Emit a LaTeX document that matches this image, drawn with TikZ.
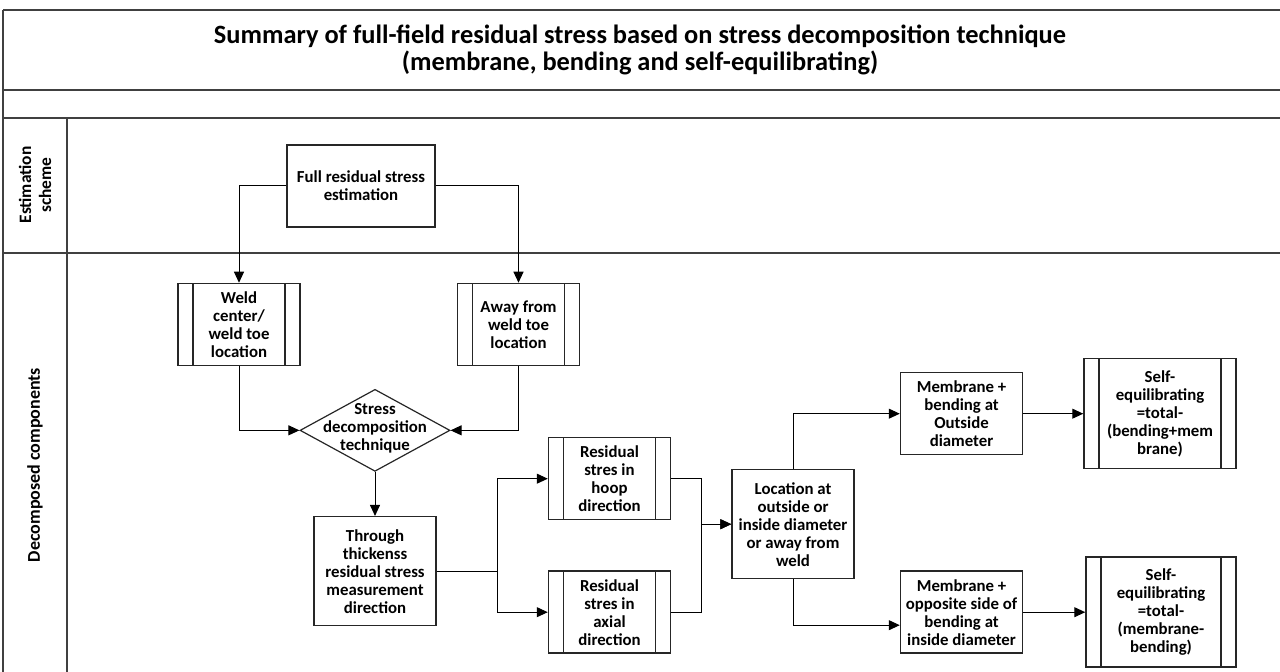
\documentclass[tikz,border=0pt]{standalone}
\usepackage{fontspec}
\setmainfont{Carlito}
\usetikzlibrary{arrows.meta,positioning,shapes.geometric}

\begin{document}
\begin{tikzpicture}[
  x=0.5pt, y=-0.5pt,
  box/.style={rectangle, draw=black!85, line width=0.75pt, align=center,
              font=\bfseries\fontsize{8.4pt}{9pt}\selectfont, inner sep=1pt,
              minimum width=61pt, minimum height=41pt},
  proc/.style={box, path picture={
      \draw[black!85, line width=0.75pt]
        ([xshift=7.5pt]path picture bounding box.north west) --
        ([xshift=7.5pt]path picture bounding box.south west)
        ([xshift=-7.5pt]path picture bounding box.north east) --
        ([xshift=-7.5pt]path picture bounding box.south east);}},
  decis/.style={diamond, aspect=1.8, draw=black!85, line width=0.6pt, inner sep=0pt,
                font=\bfseries\fontsize{8.4pt}{9pt}\selectfont,
                minimum width=75pt, minimum height=41pt},
  lane/.style={draw=black!75, line width=1pt},
  lanelbl/.style={rotate=90, align=center, font=\bfseries\fontsize{8.7pt}{10pt}\selectfont},
  arr/.style={draw, -{Triangle[length=5.5pt,width=5pt]}, line width=0.5pt},
  node distance=25pt
]
\useasboundingbox (0,0) rectangle (1280,672);
\draw[lane] (3,10) -- (1280,10);
\draw[lane] (3,90) -- (1280,90);
\draw[lane] (3,118) -- (1280,118);
\draw[lane] (3,253) -- (1280,253);
\draw[lane] (3,10) -- (3,672);
\draw[lane] (67,118) -- (67,672);

\node[align=center, font=\bfseries\fontsize{13.2pt}{13.3pt}\selectfont] (title) at (640,50)
  {Summary of full-field residual stress based on stress decomposition technique\\
   (membrane, bending and self-equilibrating)};
\node[lanelbl] (est) at (35,185) {Estimation\\scheme};
\node[lanelbl, font=\bfseries\fontsize{9pt}{10pt}\selectfont] (dcmp) at (35,465) {Decomposed components};

\node[box, minimum width=74pt] (full) at (361,186) {Full residual stress\\estimation};
\node[proc, below=27.5pt of full, xshift=-61pt] (weld) {Weld\\center/\\weld toe\\location};
\node[proc, right=78pt of weld] (away) {Away from\\weld toe\\location};
\node[decis, below=80.5pt of full, xshift=7pt] (dec)
  {\raisebox{-3pt}{\smash{\begin{tabular}{@{}c@{}}Stress\\decomposition\\technique\end{tabular}}}};
\node[box, below=22pt of dec, minimum height=54.5pt] (thru)
  {Through\\thickenss\\residual stress\\measurement\\direction};
\node[proc, right=55.5pt of thru, yshift=46.25pt] (hoop) {Residual\\stres in\\hoop\\direction};
\node[proc, below=of hoop] (axial) {Residual\\stres in\\axial\\direction};
\node[box, right=30pt of hoop, yshift=-22.75pt, minimum height=54.5pt] (loc)
  {Location at\\outside or\\inside diameter\\or away from\\weld};
\node[box, right=22.5pt of loc, yshift=55.25pt] (mem1) {Membrane +\\bending at\\Outside\\diameter};
\node[box, below=57.5pt of mem1] (mem2) {Membrane +\\opposite side of\\bending at\\inside diameter};
\node[proc, right=30pt of mem1, minimum width=76pt, minimum height=55pt] (self1)
  {Self-\\equilibrating\\=total-\\(bending+mem\\brane)};
\node[proc, right=31pt of mem2, minimum width=75pt, minimum height=55pt] (self2)
  {Self-\\equilibrating\\=total-\\(membrane-\\bending)};

\draw[arr] (full.west) -| (weld.north);
\draw[arr] (full.east) -| (away.north);
\draw[arr] (weld.south) |- (dec.west);
\draw[arr] (away.south) |- (dec.east);
\draw[arr] (dec.south) -- (thru.north);
\draw[arr] (thru.east) -- ++(30.5pt,0) |- (hoop.west);
\draw[arr] (thru.east) -- ++(30.5pt,0) |- (axial.west);
\draw[arr] (hoop.east) -- ++(15pt,0) |- (loc.west);
\draw[arr] (axial.east) -- ++(15pt,0) |- (loc.west);
\draw[arr] (loc.north) |- (mem1.west);
\draw[arr] (loc.south) |- ([yshift=-6.5pt]mem2.west);
\draw[arr] (mem1) -- (self1);
\draw[arr] (mem2) -- (self2);
\end{tikzpicture}
\end{document}
